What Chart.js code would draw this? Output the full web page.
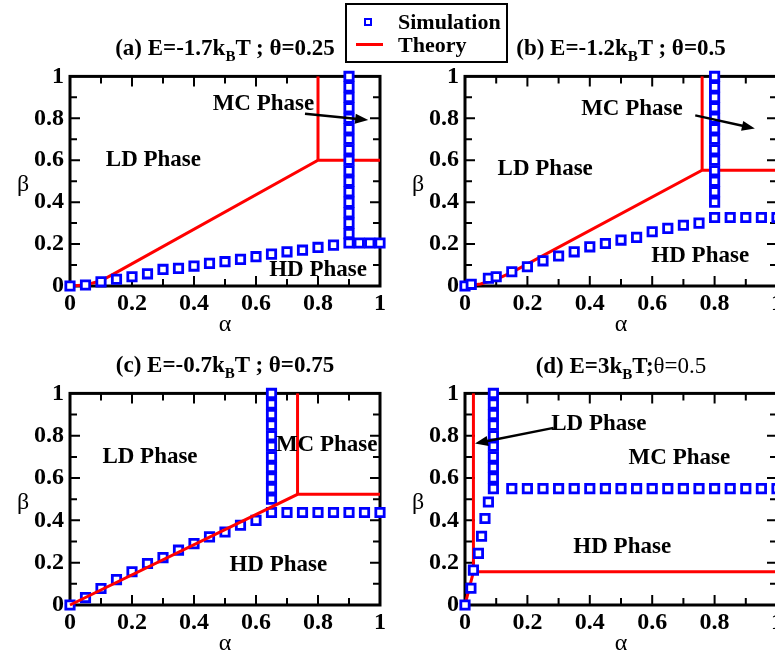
<!DOCTYPE html>
<html>
<head>
<meta charset="utf-8">
<script src="https://cdn.jsdelivr.net/npm/chart.js@4.4.0/dist/chart.umd.min.js"></script>
<style>
  body { margin: 0; width: 775px; height: 652px; overflow: hidden; background: #fff; position: relative; font-family: 'Liberation Serif', serif; }
  canvas { position: absolute; }
  .ttl { position: absolute; font-weight: bold; font-size: 23px; line-height: 26px; white-space: nowrap; transform: translateX(-50%); }
  .ttl sub { font-size: 15px; vertical-align: -6px; line-height: 0; }
  .ttl .rg { font-weight: normal; }
  #legend { position: absolute; left: 345px; top: 3px; width: 159px; height: 56px; border: 2px solid #000; background: #fff; }
  #legend .sq { position: absolute; left: 17px; top: 13px; width: 4px; height: 4px; border: 2.5px solid #0000ff; }
  #legend .ln { position: absolute; left: 9px; top: 38px; width: 27px; height: 3px; background: #ff0000; }
  #legend .tx { position: absolute; left: 51px; font-weight: bold; font-size: 22px; line-height: 26px; }
</style>
</head>
<body>

<canvas id="pa" width="395" height="290" style="left:0px; top:56px;"></canvas>
<canvas id="pb" width="400" height="290" style="left:395px; top:56px;"></canvas>
<canvas id="pc" width="395" height="279" style="left:0px; top:373px;"></canvas>
<canvas id="pd" width="400" height="279" style="left:395px; top:373px;"></canvas>

<div class="ttl" style="left:225px; top:35px;">(a) E=-1.7k<sub>B</sub>T ; θ=0.25</div>
<div class="ttl" style="left:621px; top:35px;">(b) E=-1.2k<sub>B</sub>T ; θ=0.5</div>
<div class="ttl" style="left:225px; top:352px;">(c) E=-0.7k<sub>B</sub>T ; θ=0.75</div>
<div class="ttl" style="left:621px; top:353px;">(d) E=3k<sub>B</sub>T;<span class="rg">θ=0.5</span></div>

<div id="legend">
  <div class="sq"></div>
  <div class="tx" style="top:4px;">Simulation</div>
  <div class="ln"></div>
  <div class="tx" style="top:27px;">Theory</div>
</div>

<script>
// (a) E=-1.7kBT ; theta=0.25
const simA_alpha = [0, 0.05, 0.1, 0.15, 0.2, 0.25, 0.3, 0.35, 0.4, 0.45, 0.5, 0.55, 0.6, 0.65, 0.7, 0.75, 0.8, 0.85,
  0.9, 0.9, 0.9, 0.9, 0.9, 0.9, 0.9, 0.9, 0.9, 0.9, 0.9, 0.9, 0.9, 0.9, 0.9, 0.9, 0.9,
  0.933, 0.967, 1.0];
const simA_beta = [0, 0.005, 0.02, 0.032, 0.044, 0.058, 0.079, 0.084, 0.095, 0.108, 0.116, 0.127, 0.14, 0.152, 0.163, 0.171, 0.184, 0.195,
  0.205, 0.25, 0.3, 0.35, 0.4, 0.45, 0.5, 0.55, 0.6, 0.65, 0.7, 0.75, 0.8, 0.85, 0.9, 0.95, 1.0,
  0.205, 0.205, 0.205];
const thA_alpha = [0, 0.05, 0.1, 0.15, 0.8, 1.0];
const thA_beta = [0, 0.005, 0.025, 0.065, 0.6, 0.6];
const thA_mcAlpha = [0.8, 0.8];
const thA_mcBeta = [0.6, 1.0];

// (b) E=-1.2kBT ; theta=0.5
const simB_alpha = [0, 0.02, 0.075, 0.1, 0.15, 0.2, 0.25, 0.3, 0.35, 0.4, 0.45, 0.5, 0.55, 0.6, 0.65, 0.7, 0.75, 0.8,
  0.8, 0.8, 0.8, 0.8, 0.8, 0.8, 0.8, 0.8, 0.8, 0.8, 0.8, 0.8, 0.8,
  0.85, 0.9, 0.95, 1.0];
const simB_beta = [0, 0.008, 0.037, 0.044, 0.068, 0.092, 0.12, 0.143, 0.163, 0.187, 0.203, 0.219, 0.232, 0.259, 0.275, 0.29, 0.3, 0.327,
  0.4, 0.45, 0.5, 0.55, 0.6, 0.65, 0.7, 0.75, 0.8, 0.85, 0.9, 0.95, 1.0,
  0.327, 0.327, 0.327, 0.327];
const thB_alpha = [0, 0.05, 0.1, 0.15, 0.76, 1.0];
const thB_beta = [0, 0.01, 0.032, 0.065, 0.552, 0.552];
const thB_mcAlpha = [0.76, 0.76];
const thB_mcBeta = [0.552, 1.0];

// (c) E=-0.7kBT ; theta=0.75
const simC_alpha = [0, 0.05, 0.1, 0.15, 0.2, 0.25, 0.3, 0.35, 0.4, 0.45, 0.5, 0.55, 0.6, 0.65,
  0.65, 0.65, 0.65, 0.65, 0.65, 0.65, 0.65, 0.65, 0.65, 0.65, 0.65,
  0.7, 0.75, 0.8, 0.85, 0.9, 0.95, 1.0];
const simC_beta = [0, 0.035, 0.078, 0.12, 0.157, 0.196, 0.224, 0.259, 0.29, 0.322, 0.345, 0.377, 0.4, 0.437,
  0.5, 0.55, 0.6, 0.65, 0.7, 0.75, 0.8, 0.85, 0.9, 0.95, 1.0,
  0.437, 0.437, 0.437, 0.437, 0.437, 0.437, 0.437];
const thC_alpha = [0, 0.734, 1.0];
const thC_beta = [0, 0.523, 0.523];
const thC_mcAlpha = [0.734, 0.734];
const thC_mcBeta = [0.523, 1.0];

// (d) E=3kBT ; theta=0.5
const simD_alpha = [0, 0.019, 0.027, 0.043, 0.053, 0.064, 0.075,
  0.091, 0.091, 0.091, 0.091, 0.091, 0.091, 0.091, 0.091, 0.091, 0.091,
  0.15, 0.2, 0.25, 0.3, 0.35, 0.4, 0.45, 0.5, 0.55, 0.6, 0.65, 0.7, 0.75, 0.8, 0.85, 0.9, 0.95, 1.0];
const simD_beta = [0, 0.079, 0.165, 0.244, 0.325, 0.409, 0.487,
  0.55, 0.6, 0.65, 0.7, 0.75, 0.8, 0.85, 0.9, 0.95, 1.0,
  0.55, 0.55, 0.55, 0.55, 0.55, 0.55, 0.55, 0.55, 0.55, 0.55, 0.55, 0.55, 0.55, 0.55, 0.55, 0.55, 0.55, 0.55];
const thD_alpha = [0, 0.027, 1.0];
const thD_beta = [0, 0.157, 0.157];
const thD_ldAlpha = [0.027, 0.027];
const thD_ldBeta = [0.157, 1.0];

const axisTicks = [0, 0.2, 0.4, 0.6, 0.8, 1];
const tickText = ['0', '0.2', '0.4', '0.6', '0.8', '1'];

const pts = (xs, ys) => xs.map((x, i) => ({ x: x, y: ys[i] }));

// frame with inward ticks on all four sides, like the xmgrace original
const frameTicks = {
  id: 'frameTicks',
  beforeDatasetsDraw(chart) {
    const { ctx, chartArea: a, scales: { x, y } } = chart;
    ctx.save();
    ctx.strokeStyle = '#000';
    ctx.lineWidth = 2;
    for (let i = 1; i < 10; i++) {
      const v = i / 10;
      const len = i % 2 === 0 ? 10 : 7;
      const px = x.getPixelForValue(v);
      const py = y.getPixelForValue(v);
      ctx.beginPath();
      ctx.moveTo(px, a.bottom); ctx.lineTo(px, a.bottom - len);
      ctx.moveTo(px, a.top); ctx.lineTo(px, a.top + len);
      ctx.moveTo(a.left, py); ctx.lineTo(a.left + len, py);
      ctx.moveTo(a.right, py); ctx.lineTo(a.right - len, py);
      ctx.stroke();
    }
    ctx.lineWidth = 3;
    ctx.strokeRect(a.left, a.top, a.right - a.left, a.bottom - a.top);
    ctx.restore();
  }
};

function drawArrow(ctx, x1, y1, x2, y2) {
  const ang = Math.atan2(y2 - y1, x2 - x1);
  const L = 13, W = 5;
  const c = Math.cos(ang), s = Math.sin(ang);
  ctx.beginPath();
  ctx.moveTo(x1, y1);
  ctx.lineTo(x2 - L * 0.8 * c, y2 - L * 0.8 * s);
  ctx.stroke();
  ctx.beginPath();
  ctx.moveTo(x2, y2);
  ctx.lineTo(x2 - L * c + W * s, y2 - L * s - W * c);
  ctx.lineTo(x2 - L * c - W * s, y2 - L * s + W * c);
  ctx.closePath();
  ctx.fill();
}

const phaseNotes = {
  id: 'phaseNotes',
  afterDraw(chart, args, opts) {
    const { ctx, chartArea: a, scales: { x, y } } = chart;
    ctx.save();
    ctx.fillStyle = '#000';
    ctx.strokeStyle = '#000';
    ctx.lineWidth = 2.5;
    (opts.arrows || []).forEach(ar => {
      drawArrow(ctx, x.getPixelForValue(ar[0]), y.getPixelForValue(ar[1]),
        x.getPixelForValue(ar[2]), y.getPixelForValue(ar[3]));
    });
    ctx.font = 'bold 23px "Liberation Serif"';
    ctx.textAlign = 'center';
    ctx.textBaseline = 'middle';
    (opts.labels || []).forEach(l => {
      ctx.fillText(l.text, x.getPixelForValue(l.a), y.getPixelForValue(l.b));
    });
    // axis titles (beta stays upright as in the original)
    ctx.font = '24px "Liberation Serif"';
    ctx.fillText('α', (a.left + a.right) / 2, a.bottom + 39);
    ctx.fillText('β', a.left - 47, (a.top + a.bottom) / 2 + 4);
    ctx.restore();
  }
};

const tickFont = { family: 'Liberation Serif', size: 24, weight: 'bold', lineHeight: 1.2 };
const tickLabel = (v, i) => tickText[i];

function makePanel(id, simAlpha, simBeta, lines, notes, arrows, axisHeight, padRight, simOnTop) {
  const sim = {
    label: 'Simulation',
    data: pts(simAlpha, simBeta),
    pointStyle: 'rect',
    pointRadius: 5.9,
    borderWidth: 2.8,
    borderColor: '#0000ff',
    backgroundColor: '#ffffff',
    showLine: false,
    clip: false,
    order: simOnTop ? 0 : 1
  };
  const theory = lines.map(l => ({
    label: 'Theory',
    data: pts(l[0], l[1]),
    showLine: true,
    pointRadius: 0,
    borderColor: '#ff0000',
    borderWidth: 3,
    fill: false,
    clip: false,
    order: simOnTop ? 1 : 0
  }));

  new Chart(document.getElementById(id), {
    type: 'scatter',
    data: { datasets: [sim].concat(theory) },
    options: {
      responsive: false,
      animation: false,
      events: [],
      layout: { padding: { left: 15, top: 20, right: padRight, bottom: 0 } },
      plugins: {
        legend: { display: false },
        tooltip: { enabled: false },
        phaseNotes: { labels: notes, arrows: arrows }
      },
      scales: {
        x: {
          type: 'linear', min: 0, max: 1,
          grid: { display: false, drawTicks: false },
          border: { display: false },
          afterBuildTicks: s => { s.ticks = axisTicks.map(v => ({ value: v })); },
          ticks: { color: '#000', font: tickFont, padding: 3, maxRotation: 0, autoSkip: false, callback: tickLabel },
          afterFit: s => { s.height = axisHeight; }
        },
        y: {
          type: 'linear', min: 0, max: 1,
          grid: { display: false, drawTicks: false },
          border: { display: false },
          afterBuildTicks: s => { s.ticks = axisTicks.map(v => ({ value: v })); },
          ticks: { color: '#000', font: tickFont, padding: 6, autoSkip: false, callback: tickLabel },
          afterFit: s => { s.width = 55; }
        }
      }
    },
    plugins: [frameTicks, phaseNotes]
  });
}

makePanel('pa', simA_alpha, simA_beta,
  [[thA_alpha, thA_beta], [thA_mcAlpha, thA_mcBeta]],
  [{ text: 'LD Phase', a: 0.269, b: 0.6 }, { text: 'MC Phase', a: 0.624, b: 0.867 }, { text: 'HD Phase', a: 0.8, b: 0.075 }],
  [[0.758, 0.822, 0.962, 0.792]],
  60, 15, true);

makePanel('pb', simB_alpha, simB_beta,
  [[thB_alpha, thB_beta], [thB_mcAlpha, thB_mcBeta]],
  [{ text: 'LD Phase', a: 0.257, b: 0.556 }, { text: 'MC Phase', a: 0.535, b: 0.843 }, { text: 'HD Phase', a: 0.754, b: 0.143 }],
  [[0.738, 0.814, 0.929, 0.751]],
  60, 18, true);

makePanel('pc', simC_alpha, simC_beta,
  [[thC_alpha, thC_beta], [thC_mcAlpha, thC_mcBeta]],
  [{ text: 'LD Phase', a: 0.258, b: 0.70 }, { text: 'MC Phase', a: 0.828, b: 0.758 }, { text: 'HD Phase', a: 0.672, b: 0.188 }],
  [],
  47, 15, false);

makePanel('pd', simD_alpha, simD_beta,
  [[thD_alpha, thD_beta], [thD_ldAlpha, thD_ldBeta]],
  [{ text: 'LD Phase', a: 0.429, b: 0.855 }, { text: 'MC Phase', a: 0.687, b: 0.695 }, { text: 'HD Phase', a: 0.504, b: 0.275 }],
  [[0.284, 0.837, 0.032, 0.763]],
  47, 18, true);
</script>
</body>
</html>
